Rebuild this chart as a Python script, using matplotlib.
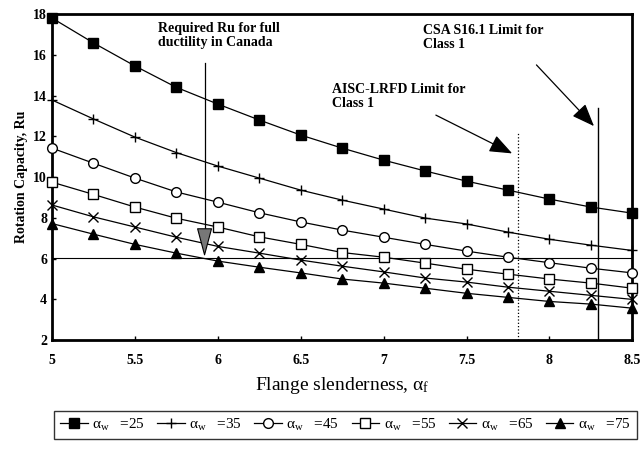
import numpy as np
import matplotlib
matplotlib.use("Agg")
import matplotlib.pyplot as plt

plt.rcParams['font.family'] = ['Liberation Serif', 'DejaVu Serif']
plt.rcParams['mathtext.fontset'] = 'custom'
plt.rcParams['mathtext.rm'] = 'Liberation Serif'
plt.rcParams['mathtext.it'] = 'Liberation Serif:italic'

# flange slenderness values (markers every 0.25)
af = [5.0, 5.25, 5.5, 5.75, 6.0, 6.25, 6.5, 6.75, 7.0, 7.25, 7.5, 7.75, 8.0, 8.25, 8.5]

# rotation capacity for each web slenderness
ru_25 = [17.8, 16.58, 15.45, 14.4, 13.58, 12.8, 12.06, 11.42, 10.83, 10.3, 9.8, 9.36, 8.92, 8.53, 8.23]
ru_35 = [13.78, 12.85, 11.96, 11.2, 10.54, 9.95, 9.36, 8.87, 8.43, 7.99, 7.7, 7.3, 6.95, 6.66, 6.4]
ru_45 = [11.42, 10.68, 9.95, 9.27, 8.77, 8.25, 7.8, 7.4, 7.05, 6.7, 6.37, 6.07, 5.8, 5.53, 5.3]
ru_55 = [9.75, 9.15, 8.53, 7.98, 7.55, 7.07, 6.7, 6.3, 6.07, 5.78, 5.48, 5.24, 5.0, 4.8, 4.55]
ru_65 = [8.63, 8.05, 7.55, 7.05, 6.6, 6.27, 5.93, 5.63, 5.35, 5.05, 4.85, 4.6, 4.4, 4.2, 4.0]
ru_75 = [7.72, 7.2, 6.7, 6.27, 5.88, 5.58, 5.3, 5.0, 4.8, 4.55, 4.3, 4.1, 3.9, 3.77, 3.57]

aw_labels = ["25", "35", "45", "55", "65", "75"]

ru_required = 6.05     # horizontal line
af_canada = 5.92       # required Ru arrow position
af_aisc = 7.81         # AISC-LRFD limit
af_csa = 8.29          # CSA S16.1 limit

fig = plt.figure(figsize=(6.42, 4.5), dpi=100)
ax = fig.add_axes([0.081, 0.244, 0.904, 0.725])

series = [ru_25, ru_35, ru_45, ru_55, ru_65, ru_75]
styles = [
    dict(marker='s', markersize=7, markerfacecolor='black'),
    dict(marker='+', markersize=7, markeredgewidth=1.0),
    dict(marker='o', markersize=7, markerfacecolor='white'),
    dict(marker='s', markersize=7, markerfacecolor='white'),
    dict(marker='x', markersize=7, markeredgewidth=1.0),
    dict(marker='^', markersize=7, markerfacecolor='black'),
]
for vals, lab, st in zip(series, aw_labels, styles):
    ax.plot(af, vals, color='black', linewidth=0.9, markeredgecolor='black',
            label=r'$\mathrm{\alpha_w}$   =' + lab, clip_on=False, zorder=3, **st)

# required Ru line and limits
ax.axhline(ru_required, color='black', linewidth=0.8)
ax.plot([af_canada, af_canada], [15.6, 7.4], color='black', linewidth=0.9)
ax.annotate('', xy=(af_canada, ru_required), xytext=(af_canada, 7.6),
            arrowprops=dict(arrowstyle='wedge,tail_width=1.0', facecolor='#777777',
                            edgecolor='black', linewidth=0.8))
ax.plot([af_aisc, af_aisc], [2, 12.2], color='black', linewidth=0.9, linestyle=':')
ax.plot([af_csa, af_csa], [2, 13.4], color='black', linewidth=1.0)

ax.annotate('', xy=(af_aisc - 0.02, 11.1), xytext=(7.3, 13.1),
            arrowprops=dict(arrowstyle='-|>,head_length=1.4,head_width=0.55',
                            color='black', linewidth=0.9))
ax.annotate('', xy=(af_csa - 0.01, 12.4), xytext=(7.91, 15.6),
            arrowprops=dict(arrowstyle='-|>,head_length=1.4,head_width=0.55',
                            color='black', linewidth=0.9))

ax.text(5.64, 17.6, 'Required Ru for full\nductility in Canada', fontsize=10,
        fontweight='bold', va='top', ha='left', linespacing=1.1)
ax.text(7.24, 17.5, 'CSA S16.1 Limit for\nClass 1', fontsize=10,
        fontweight='bold', va='top', ha='left', linespacing=1.1)
ax.text(6.69, 14.6, 'AISC-LRFD Limit for\nClass 1', fontsize=10,
        fontweight='bold', va='top', ha='left', linespacing=1.1)

ax.set_xlim(5, 8.5)
ax.set_ylim(2, 18)
ax.set_xticks([5, 5.5, 6, 6.5, 7, 7.5, 8, 8.5])
ax.set_xticklabels(['5', '5.5', '6', '6.5', '7', '7.5', '8', '8.5'])
ax.set_yticks(np.arange(2, 19, 2))
ax.tick_params(axis='both', labelsize=10, direction='in', length=3, width=1)
ax.tick_params(axis='x', pad=10)
for lbl in ax.get_xticklabels() + ax.get_yticklabels():
    lbl.set_fontweight('bold')
for sp in ax.spines.values():
    sp.set_linewidth(2)

ax.set_ylabel('Rotation Capacity, Ru', fontsize=10, fontweight='bold', labelpad=4)
ax.set_xlabel(r'Flange slenderness, $\mathrm{\alpha_f}$', fontsize=14, labelpad=6)

leg = fig.legend(loc='center', bbox_to_anchor=(0.538, 0.056), ncol=6,
                 fontsize=11, frameon=True, fancybox=False, edgecolor='black',
                 handlelength=1.8, handletextpad=0.3, columnspacing=0.8,
                 borderpad=0.4)
leg.get_frame().set_linewidth(1.0)

fig.savefig('out.png', dpi=100)
